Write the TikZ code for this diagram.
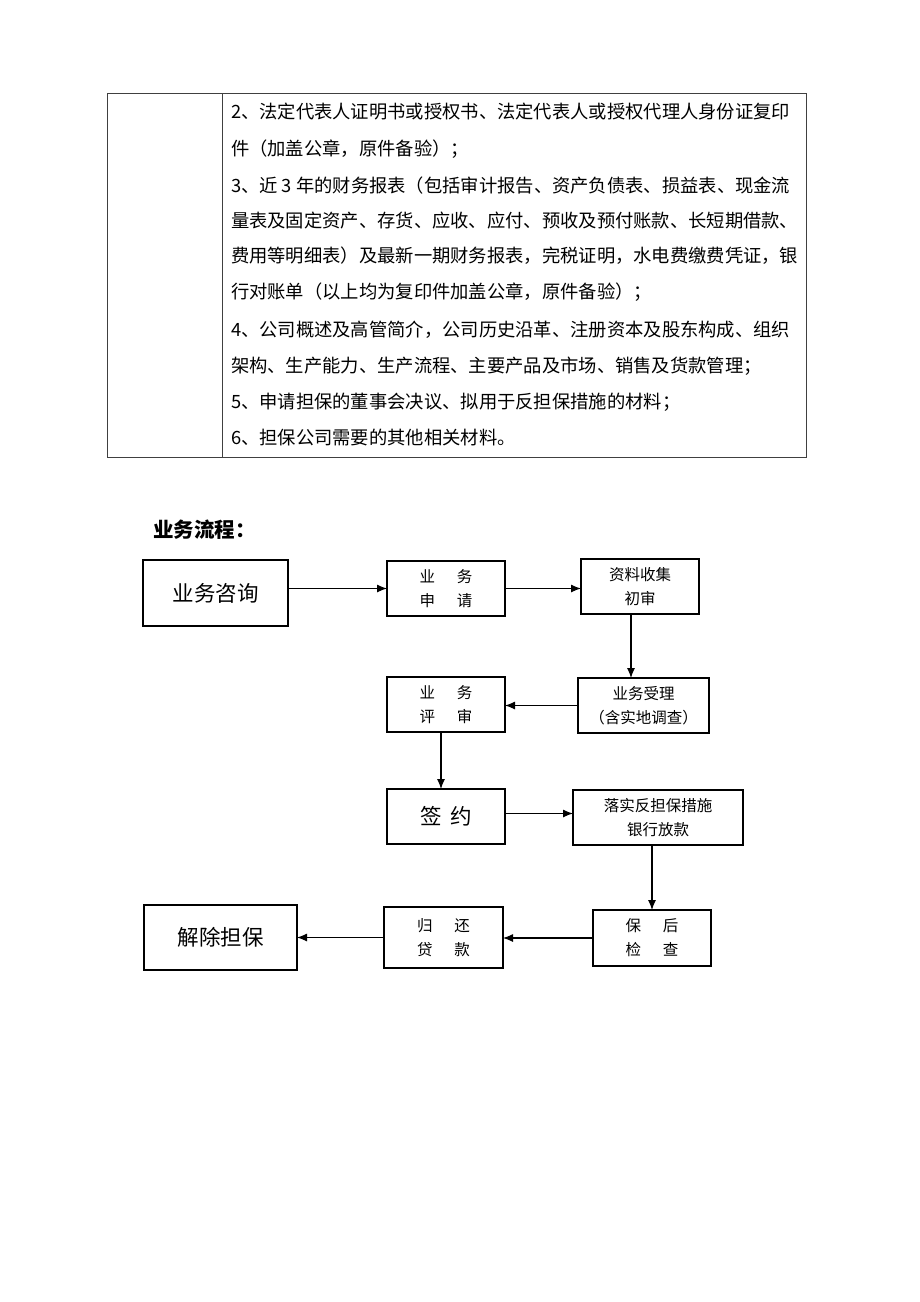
\documentclass[tikz,border=0pt]{standalone}
\usepackage{fontspec}
\setmainfont{Noto Sans CJK SC}
\usetikzlibrary{arrows.meta}

\begin{document}
\begin{tikzpicture}[x=1pt,y=-1pt,
  every node/.style={inner sep=0pt,outer sep=0pt},
  rowtext/.style={anchor=west,font=\fontsize{18.3}{18.3}\selectfont},
  flowbox/.style={draw,line width=1.2pt,align=center,font=\fontsize{15.5}{24}\selectfont},
  bigbox/.style={flowbox,font=\fontsize{21.5}{24}\selectfont},
  flow/.style={line width=1.1pt,-{Latex[length=10pt,width=8pt]}}]
  \useasboundingbox[fill=white] (0,0) rectangle (920,1302);
  % table
  \draw[line width=0.9pt,black!75] (107,93) rectangle (806,457) (222,93) -- (222,457);
  \path (231,112) node[rowtext] (r1) {2、法定代表人证明书或授权书、法定代表人或授权代理人身份证复印}
  (231,149) node[rowtext] (r2) {件（加盖公章，原件备验）；}
  (231,186) node[rowtext] (r3) {3、近 3 年的财务报表（包括审计报告、资产负债表、损益表、现金流}
  (231,221) node[rowtext] (r4) {量表及固定资产、存货、应收、应付、预收及预付账款、长短期借款、}
  (231,256) node[rowtext] (r5) {费用等明细表）及最新一期财务报表，完税证明，水电费缴费凭证，银}
  (231,292) node[rowtext] (r6) {行对账单（以上均为复印件加盖公章，原件备验）；}
  (231,330) node[rowtext] (r7) {4、公司概述及高管简介，公司历史沿革、注册资本及股东构成、组织}
  (231,366) node[rowtext] (r8) {架构、生产能力、生产流程、主要产品及市场、销售及货款管理；}
  (231,402) node[rowtext] (r9) {5、申请担保的董事会决议、拟用于反担保措施的材料；}
  (231,438) node[rowtext] (r10) {6、担保公司需要的其他相关材料。};
  % flow chart
  \node[anchor=west,font=\fontsize{20.5}{20.5}\selectfont\bfseries] (title) at (153,530) {业务流程：};
  \path (215.5,593) node[bigbox,minimum width=145pt,minimum height=66pt] (zixun) {业务咨询}
  (446,588.5) node[flowbox,minimum width=118pt,minimum height=55pt] (shenqing) {业\hspace{1.4em}务\\申\hspace{1.4em}请}
  (640,586.5) node[flowbox,minimum width=118pt,minimum height=55pt] (shouji) {资料收集\\初审}
  (643.5,705.5) node[flowbox,minimum width=131pt,minimum height=55pt] (shouli) {业务受理\\（含实地调查）}
  (446,704.5) node[flowbox,minimum width=118pt,minimum height=55pt] (pingshen) {业\hspace{1.4em}务\\评\hspace{1.4em}审}
  (446,816.5) node[bigbox,minimum width=118pt,minimum height=55pt] (qianyue) {签\hspace{0.4em}约}
  (658,817.5) node[flowbox,minimum width=170pt,minimum height=55pt] (fangkuan) {落实反担保措施\\银行放款}
  (652,938) node[flowbox,minimum width=118pt,minimum height=56pt] (jiancha) {保\hspace{1.4em}后\\检\hspace{1.4em}查}
  (443.5,937.5) node[flowbox,minimum width=119pt,minimum height=61pt] (huankuan) {归\hspace{1.4em}还\\贷\hspace{1.4em}款}
  (220.5,937.5) node[bigbox,minimum width=153pt,minimum height=65pt] (jiechu) {解除担保};
  \draw[flow] (zixun.east |- shenqing.west) -- (shenqing.west);
  \draw[flow] (shenqing.east) -- (shenqing.east -| shouji.west);
  \draw[flow] ([xshift=-9pt]shouji.south) -- ([xshift=-9pt]shouji.south |- shouli.north);
  \draw[flow] (shouli.west) -- (shouli.west -| pingshen.east);
  \draw[flow] ([xshift=-5pt]pingshen.south) -- ([xshift=-5pt]qianyue.north);
  \draw[flow] ([yshift=3pt]qianyue.east) -- ([yshift=3pt]qianyue.east -| fangkuan.west);
  \draw[flow] (fangkuan.south -| jiancha.north) -- (jiancha.north);
  \draw[flow] (jiancha.west) -- (jiancha.west -| huankuan.east);
  \draw[flow] (huankuan.west) -- (huankuan.west -| jiechu.east);
\end{tikzpicture}
\end{document}
